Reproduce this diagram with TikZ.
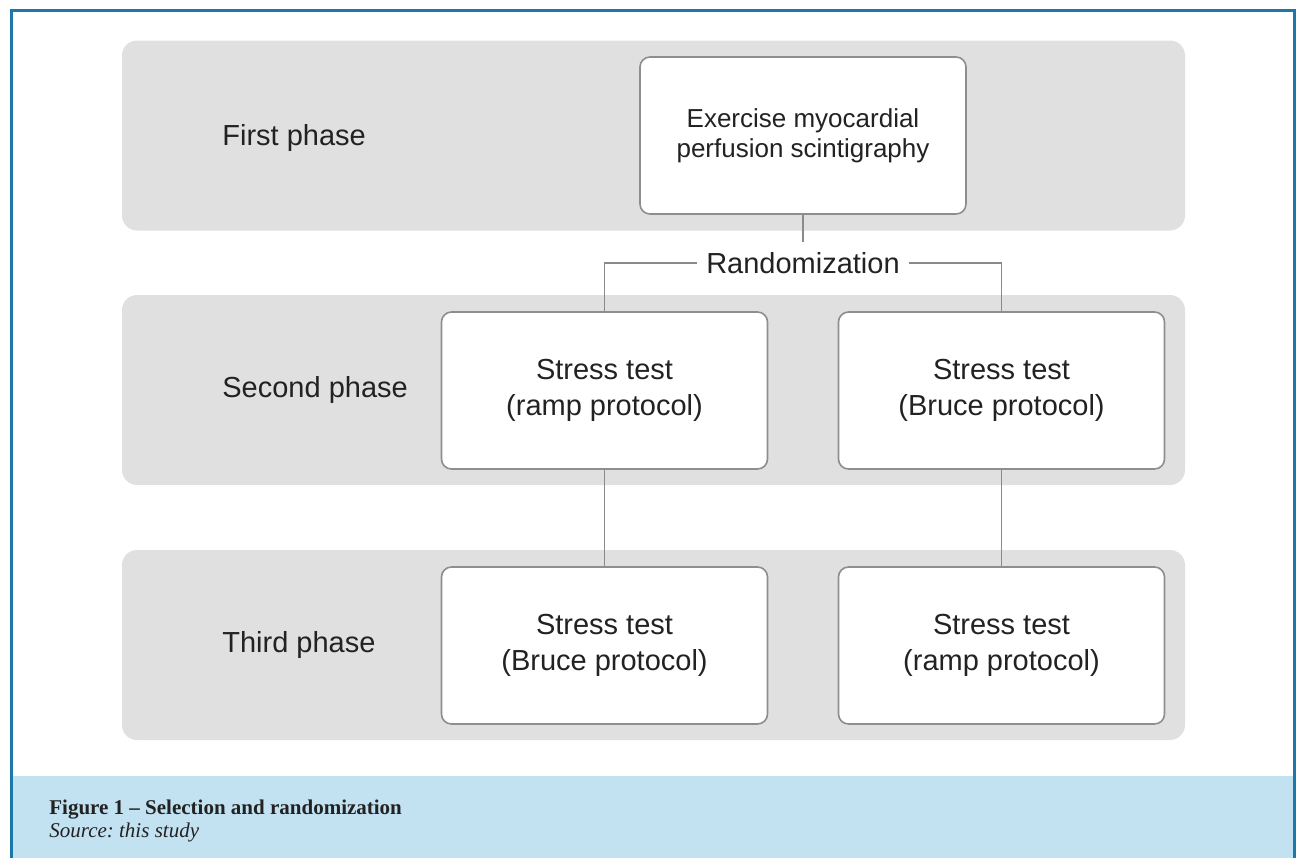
\documentclass[tikz,border=0pt]{standalone}
\usepackage{fontspec}
\setmainfont{Liberation Sans}
\newfontfamily\capfont{Liberation Serif}
\usetikzlibrary{positioning}
\frenchspacing

\definecolor{frameblue}{HTML}{1B78A8}
\definecolor{capblue}{HTML}{C2E2F2}
\definecolor{bandgray}{HTML}{E0E0E0}
\definecolor{boxline}{HTML}{8E8E8E}
\definecolor{wireline}{HTML}{8A8A8A}
\definecolor{txt}{HTML}{222222}

\tikzset{
  band/.style={fill=bandgray, rounded corners=7.5pt, minimum width=531.5pt,
    minimum height=95pt, inner sep=0pt},
  phase/.style={anchor=west, text=txt, font=\fontsize{14.5}{17}\selectfont, inner sep=0pt},
  stagebox/.style={draw=boxline, line width=0.8pt, fill=white, rounded corners=5pt,
    minimum width=163pt, minimum height=78.5pt, align=center, text=txt,
    font=\fontsize{14.5}{18}\selectfont},
  wire/.style={draw=wireline, line width=0.8pt},
}

\begin{document}
\begin{tikzpicture}[x=0.5pt, y=-0.5pt]
            % Page and frame
            \useasboundingbox (0,0) rectangle (1298,858);
            \fill[capblue] (11,776) rectangle (1294,858);
            \draw[frameblue, line width=1.5pt] (11,858) -- (11,10) -- (1294,10) -- (1294,858);
            % Phase bands
            \node[band] (band1) at (653.5,135.5) {};
            \node[band] (band2) at (653.5,390) {};
            \node[band] (band3) at (653.5,645) {};
            \node[phase] (lab1) at (222,138) {First phase};
            \node[phase] (lab2) at (222,390) {Second phase};
            \node[phase] (lab3) at (222,645) {Third phase};
            % Boxes
            \node[stagebox, font=\fontsize{13}{15}\selectfont] (perf) at (803,135.5)
                {Exercise myocardial\\perfusion scintigraphy};
            \node[stagebox] (rampA) at (604.5,390.5) {Stress test\\(ramp protocol)};
            \node[stagebox] (bruceA) at (1001.5,390.5) {Stress test\\(Bruce protocol)};
            \node[stagebox] (bruceB) at (604.5,645.5) {Stress test\\(Bruce protocol)};
            \node[stagebox] (rampB) at (1001.5,645.5) {Stress test\\(ramp protocol)};
            % Randomization
            \node[text=txt, font=\fontsize{14.5}{17}\selectfont, inner xsep=4.5pt, inner ysep=0pt] (rand) at (803,263) {Randomization};
            \coordinate (randtop) at (803,242);
            \draw[wire] (perf.south) -- (randtop);
            \draw[wire] (rand.west) -| (rampA.north);
            \draw[wire] (rand.east) -| (bruceA.north);
            \draw[wire] (rampA.south) -- (bruceB.north);
            \draw[wire] (bruceA.south) -- (rampB.north);
            % Caption
            \node[anchor=base west, inner sep=0pt, text=txt, font=\capfont\fontsize{10.5}{12}\selectfont\bfseries] (captitle) at (49,814)
                {Figure 1 – Selection and randomization};
            \node[anchor=base west, inner sep=0pt, text=txt, font=\capfont\fontsize{10.5}{12}\selectfont\itshape] (capsrc) at (49,837)
                {Source: this study};
        \end{tikzpicture}
\end{document}
